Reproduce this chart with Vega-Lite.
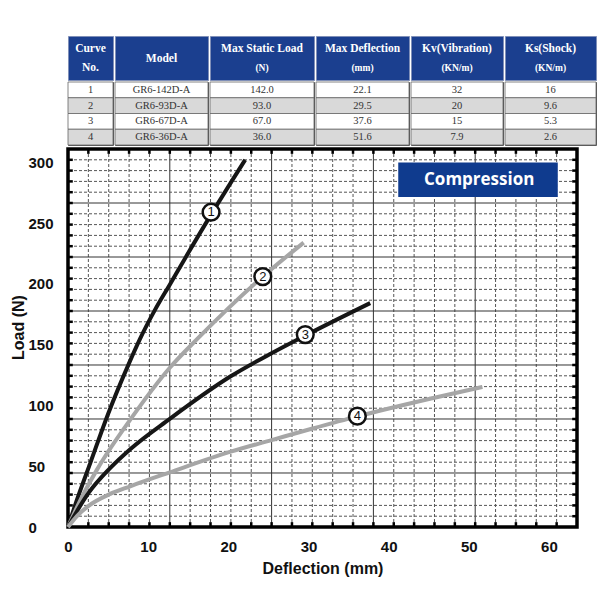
{
  "$schema": "https://vega.github.io/schema/vega-lite/v6.json",
  "padding": {"left": 8, "top": 35, "right": 5, "bottom": 5},
  "background": "white",
  "config": {"view": {"stroke": null}, "axis": {"grid": false, "ticks": false, "domain": false}},
  "spacing": 0,
  "datasets": {
    "header": [
      {"col": "no", "l1": "Curve", "l2": "No."},
      {"col": "model", "l1": "Model", "l2": ""},
      {"col": "load", "l1": "Max Static Load", "l2": "(N)"},
      {"col": "defl", "l1": "Max Deflection", "l2": "(mm)"},
      {"col": "kv", "l1": "Kv(Vibration)", "l2": "(KN/m)"},
      {"col": "ks", "l1": "Ks(Shock)", "l2": "(KN/m)"}
    ],
    "table": [
      {"no": "1", "model": "GR6-142D-A", "load": "142.0", "defl": "22.1", "kv": "32", "ks": "16"},
      {"no": "2", "model": "GR6-93D-A", "load": "93.0", "defl": "29.5", "kv": "20", "ks": "9.6"},
      {"no": "3", "model": "GR6-67D-A", "load": "67.0", "defl": "37.6", "kv": "15", "ks": "5.3"},
      {"no": "4", "model": "GR6-36D-A", "load": "36.0", "defl": "51.6", "kv": "7.9", "ks": "2.6"}
    ],
    "vgrid": [
      {"x": 2.54, "kind": "minor"}, {"x": 5.08, "kind": "minor"}, {"x": 7.62, "kind": "minor"}, {"x": 10.16, "kind": "minor"},
      {"x": 12.7, "kind": "major"},
      {"x": 15.24, "kind": "minor"}, {"x": 17.78, "kind": "minor"}, {"x": 20.32, "kind": "minor"}, {"x": 22.86, "kind": "minor"},
      {"x": 25.4, "kind": "major"},
      {"x": 27.94, "kind": "minor"}, {"x": 30.48, "kind": "minor"}, {"x": 33.02, "kind": "minor"}, {"x": 35.56, "kind": "minor"},
      {"x": 38.1, "kind": "major"},
      {"x": 40.64, "kind": "minor"}, {"x": 43.18, "kind": "minor"}, {"x": 45.72, "kind": "minor"}, {"x": 48.26, "kind": "minor"},
      {"x": 50.8, "kind": "major"},
      {"x": 53.34, "kind": "minor"}, {"x": 55.88, "kind": "minor"}, {"x": 58.42, "kind": "minor"}, {"x": 60.96, "kind": "minor"}
    ],
    "hgrid": [
      {"y": 8.89, "kind": "minor"}, {"y": 17.77, "kind": "minor"}, {"y": 26.66, "kind": "minor"}, {"y": 35.54, "kind": "minor"},
      {"y": 44.43, "kind": "major"},
      {"y": 53.31, "kind": "minor"}, {"y": 62.2, "kind": "minor"}, {"y": 71.09, "kind": "minor"}, {"y": 79.97, "kind": "minor"},
      {"y": 88.86, "kind": "major"},
      {"y": 97.74, "kind": "minor"}, {"y": 106.63, "kind": "minor"}, {"y": 115.51, "kind": "minor"}, {"y": 124.4, "kind": "minor"},
      {"y": 133.29, "kind": "major"},
      {"y": 142.17, "kind": "minor"}, {"y": 151.06, "kind": "minor"}, {"y": 159.94, "kind": "minor"}, {"y": 168.83, "kind": "minor"},
      {"y": 177.71, "kind": "major"},
      {"y": 186.6, "kind": "minor"}, {"y": 195.49, "kind": "minor"}, {"y": 204.37, "kind": "minor"}, {"y": 213.26, "kind": "minor"},
      {"y": 222.14, "kind": "major"},
      {"y": 231.03, "kind": "minor"}, {"y": 239.91, "kind": "minor"}, {"y": 248.8, "kind": "minor"}, {"y": 257.69, "kind": "minor"},
      {"y": 266.57, "kind": "major"},
      {"y": 275.46, "kind": "minor"}, {"y": 284.34, "kind": "minor"}, {"y": 293.23, "kind": "minor"}, {"y": 302.11, "kind": "minor"}
    ],
    "curves": [
      {"curve": "1", "d": 0, "load": 0}, {"curve": "1", "d": 1.1, "load": 22}, {"curve": "1", "d": 2.8, "load": 53},
      {"curve": "1", "d": 5.0, "load": 93}, {"curve": "1", "d": 7.5, "load": 133}, {"curve": "1", "d": 9.0, "load": 155},
      {"curve": "1", "d": 10.8, "load": 178}, {"curve": "1", "d": 12.75, "load": 200}, {"curve": "1", "d": 14.6, "load": 221},
      {"curve": "1", "d": 17.85, "load": 257}, {"curve": "1", "d": 22.1, "load": 302},
      {"curve": "2", "d": 0, "load": 0}, {"curve": "2", "d": 1.5, "load": 21.5}, {"curve": "2", "d": 3.6, "load": 47},
      {"curve": "2", "d": 8.17, "load": 92}, {"curve": "2", "d": 12.7, "load": 131}, {"curve": "2", "d": 16.1, "load": 154.5},
      {"curve": "2", "d": 24.3, "load": 206}, {"curve": "2", "d": 29.4, "load": 234},
      {"curve": "3", "d": 0, "load": 0}, {"curve": "3", "d": 1.12, "load": 13}, {"curve": "3", "d": 2.57, "load": 28},
      {"curve": "3", "d": 5.19, "load": 48}, {"curve": "3", "d": 7.76, "load": 64}, {"curve": "3", "d": 12.7, "load": 89},
      {"curve": "3", "d": 20.3, "load": 124}, {"curve": "3", "d": 25.4, "load": 143}, {"curve": "3", "d": 29.6, "load": 157.5},
      {"curve": "3", "d": 37.7, "load": 184.2},
      {"curve": "4", "d": 0, "load": 0}, {"curve": "4", "d": 1.12, "load": 9}, {"curve": "4", "d": 2.57, "load": 17.4},
      {"curve": "4", "d": 5.19, "load": 27}, {"curve": "4", "d": 7.76, "load": 33.5}, {"curve": "4", "d": 12.7, "load": 45},
      {"curve": "4", "d": 20.3, "load": 62}, {"curve": "4", "d": 25.4, "load": 71.5}, {"curve": "4", "d": 30.4, "load": 80.8},
      {"curve": "4", "d": 36.1, "load": 91}, {"curve": "4", "d": 45.3, "load": 105.7}, {"curve": "4", "d": 51.7, "load": 115.3}
    ],
    "labels": [
      {"curve": "1", "d": 17.85, "load": 259},
      {"curve": "2", "d": 24.3, "load": 206},
      {"curve": "3", "d": 29.6, "load": 158.3},
      {"curve": "4", "d": 36.1, "load": 91.2}
    ]
  },
  "vconcat": [
    {
      "spacing": 0,
      "vconcat": [
        {
          "spacing": 0,
          "hconcat": [
            {"width": 45, "height": 44, "view": {"fill": "#1b3f8f", "stroke": "#7f8fb8", "strokeWidth": 1},
             "data": {"name": "header"}, "transform": [{"filter": "datum.col == 'no'"}],
             "encoding": {"y": {"field": "col", "type": "nominal", "axis": {"labels": false, "title": "L", "titleFont": "Liberation Sans", "titleFontWeight": "bold", "titleFontSize": 16, "titleOpacity": 0, "titleX": -40, "titleY": 22}}},
             "layer": [
               {"mark": {"type": "text", "font": "Liberation Serif", "fontWeight": "bold", "fontSize": 11.5, "color": "white", "dy": -9}, "encoding": {"text": {"field": "l1"}}},
               {"mark": {"type": "text", "font": "Liberation Serif", "fontWeight": "bold", "fontSize": 11.5, "color": "white", "dy": 9.5}, "encoding": {"text": {"field": "l2"}}}
             ]},
            {"width": 93, "height": 44, "view": {"fill": "#1b3f8f", "stroke": "#7f8fb8", "strokeWidth": 1},
             "data": {"name": "header"}, "transform": [{"filter": "datum.col == 'model'"}],
             "layer": [
               {"mark": {"type": "text", "font": "Liberation Serif", "fontWeight": "bold", "fontSize": 11.5, "color": "white", "dy": 1}, "encoding": {"text": {"field": "l1"}}}
             ]},
            {"width": 104, "height": 44, "view": {"fill": "#1b3f8f", "stroke": "#7f8fb8", "strokeWidth": 1},
             "data": {"name": "header"}, "transform": [{"filter": "datum.col == 'load'"}],
             "layer": [
               {"mark": {"type": "text", "font": "Liberation Serif", "fontWeight": "bold", "fontSize": 11.5, "color": "white", "dy": -9}, "encoding": {"text": {"field": "l1"}}},
               {"mark": {"type": "text", "font": "Liberation Serif", "fontWeight": "bold", "fontSize": 9.5, "color": "white", "dy": 9.5}, "encoding": {"text": {"field": "l2"}}}
             ]},
            {"width": 93, "height": 44, "view": {"fill": "#1b3f8f", "stroke": "#7f8fb8", "strokeWidth": 1},
             "data": {"name": "header"}, "transform": [{"filter": "datum.col == 'defl'"}],
             "layer": [
               {"mark": {"type": "text", "font": "Liberation Serif", "fontWeight": "bold", "fontSize": 11.5, "color": "white", "dy": -9}, "encoding": {"text": {"field": "l1"}}},
               {"mark": {"type": "text", "font": "Liberation Serif", "fontWeight": "bold", "fontSize": 9.5, "color": "white", "dy": 9.5}, "encoding": {"text": {"field": "l2"}}}
             ]},
            {"width": 92, "height": 44, "view": {"fill": "#1b3f8f", "stroke": "#7f8fb8", "strokeWidth": 1},
             "data": {"name": "header"}, "transform": [{"filter": "datum.col == 'kv'"}],
             "layer": [
               {"mark": {"type": "text", "font": "Liberation Serif", "fontWeight": "bold", "fontSize": 11.5, "color": "white", "dy": -9}, "encoding": {"text": {"field": "l1"}}},
               {"mark": {"type": "text", "font": "Liberation Serif", "fontWeight": "bold", "fontSize": 9.5, "color": "white", "dy": 9.5}, "encoding": {"text": {"field": "l2"}}}
             ]},
            {"width": 91, "height": 44, "view": {"fill": "#1b3f8f", "stroke": "#7f8fb8", "strokeWidth": 1},
             "data": {"name": "header"}, "transform": [{"filter": "datum.col == 'ks'"}],
             "layer": [
               {"mark": {"type": "text", "font": "Liberation Serif", "fontWeight": "bold", "fontSize": 11.5, "color": "white", "dy": -9}, "encoding": {"text": {"field": "l1"}}},
               {"mark": {"type": "text", "font": "Liberation Serif", "fontWeight": "bold", "fontSize": 9.5, "color": "white", "dy": 9.5}, "encoding": {"text": {"field": "l2"}}}
             ]}
          ]
        },
        {
          "spacing": 0,
          "hconcat": [
            {"width": 45, "height": 63, "view": {"stroke": "#555", "strokeWidth": 1}, "data": {"name": "table"},
             "encoding": {"y": {"field": "no", "type": "ordinal", "scale": {"paddingInner": 0, "paddingOuter": 0},
               "axis": {"labels": false, "title": "L", "titleFont": "Liberation Sans", "titleFontWeight": "bold", "titleFontSize": 16, "titleOpacity": 0, "titleX": -40, "titleY": 31}}},
             "layer": [
               {"mark": {"type": "rect", "stroke": "#666", "strokeWidth": 0.8}, "encoding": {"x": {"value": 0}, "x2": {"value": "width"}, "fill": {"condition": {"test": "datum.no == '2' || datum.no == '4'", "value": "#d9d9d9"}, "value": "#ffffff"}}},
               {"mark": {"type": "text", "font": "Liberation Serif", "fontSize": 10.5, "color": "#333"}, "encoding": {"text": {"field": "no"}}}
             ]},
            {"width": 93, "height": 63, "view": {"stroke": "#555", "strokeWidth": 1}, "data": {"name": "table"},
             "encoding": {"y": {"field": "no", "type": "ordinal", "axis": null, "scale": {"paddingInner": 0, "paddingOuter": 0}}},
             "layer": [
               {"mark": {"type": "rect", "stroke": "#666", "strokeWidth": 0.8}, "encoding": {"x": {"value": 0}, "x2": {"value": "width"}, "fill": {"condition": {"test": "datum.no == '2' || datum.no == '4'", "value": "#d9d9d9"}, "value": "#ffffff"}}},
               {"mark": {"type": "text", "font": "Liberation Serif", "fontSize": 10.5, "color": "#333"}, "encoding": {"text": {"field": "model"}}}
             ]},
            {"width": 104, "height": 63, "view": {"stroke": "#555", "strokeWidth": 1}, "data": {"name": "table"},
             "encoding": {"y": {"field": "no", "type": "ordinal", "axis": null, "scale": {"paddingInner": 0, "paddingOuter": 0}}},
             "layer": [
               {"mark": {"type": "rect", "stroke": "#666", "strokeWidth": 0.8}, "encoding": {"x": {"value": 0}, "x2": {"value": "width"}, "fill": {"condition": {"test": "datum.no == '2' || datum.no == '4'", "value": "#d9d9d9"}, "value": "#ffffff"}}},
               {"mark": {"type": "text", "font": "Liberation Serif", "fontSize": 10.5, "color": "#333"}, "encoding": {"text": {"field": "load"}}}
             ]},
            {"width": 93, "height": 63, "view": {"stroke": "#555", "strokeWidth": 1}, "data": {"name": "table"},
             "encoding": {"y": {"field": "no", "type": "ordinal", "axis": null, "scale": {"paddingInner": 0, "paddingOuter": 0}}},
             "layer": [
               {"mark": {"type": "rect", "stroke": "#666", "strokeWidth": 0.8}, "encoding": {"x": {"value": 0}, "x2": {"value": "width"}, "fill": {"condition": {"test": "datum.no == '2' || datum.no == '4'", "value": "#d9d9d9"}, "value": "#ffffff"}}},
               {"mark": {"type": "text", "font": "Liberation Serif", "fontSize": 10.5, "color": "#333"}, "encoding": {"text": {"field": "defl"}}}
             ]},
            {"width": 92, "height": 63, "view": {"stroke": "#555", "strokeWidth": 1}, "data": {"name": "table"},
             "encoding": {"y": {"field": "no", "type": "ordinal", "axis": null, "scale": {"paddingInner": 0, "paddingOuter": 0}}},
             "layer": [
               {"mark": {"type": "rect", "stroke": "#666", "strokeWidth": 0.8}, "encoding": {"x": {"value": 0}, "x2": {"value": "width"}, "fill": {"condition": {"test": "datum.no == '2' || datum.no == '4'", "value": "#d9d9d9"}, "value": "#ffffff"}}},
               {"mark": {"type": "text", "font": "Liberation Serif", "fontSize": 10.5, "color": "#333"}, "encoding": {"text": {"field": "kv"}}}
             ]},
            {"width": 91, "height": 63, "view": {"stroke": "#555", "strokeWidth": 1}, "data": {"name": "table"},
             "encoding": {"y": {"field": "no", "type": "ordinal", "axis": null, "scale": {"paddingInner": 0, "paddingOuter": 0}}},
             "layer": [
               {"mark": {"type": "rect", "stroke": "#666", "strokeWidth": 0.8}, "encoding": {"x": {"value": 0}, "x2": {"value": "width"}, "fill": {"condition": {"test": "datum.no == '2' || datum.no == '4'", "value": "#d9d9d9"}, "value": "#ffffff"}}},
               {"mark": {"type": "text", "font": "Liberation Serif", "fontSize": 10.5, "color": "#333"}, "encoding": {"text": {"field": "ks"}}}
             ]}
          ]
        }
      ]
    },
    {
      "width": 509,
      "height": 378,
      "view": {"stroke": "#000", "strokeWidth": 3.5},
      "layer": [
        {"data": {"name": "vgrid"}, "transform": [{"filter": "datum.kind == 'minor'"}],
         "mark": {"type": "rule", "color": "#555", "strokeWidth": 1, "strokeDash": [3, 2]},
         "encoding": {"x": {"field": "x", "type": "quantitative", "scale": {"domain": [0, 63.5], "nice": false, "zero": true},
           "axis": {"values": [0, 10, 20, 30, 40, 50, 60], "grid": false, "ticks": false, "tickSize": 0, "domain": false, "labelFlush": false, "labelOverlap": false,
             "labelFont": "Liberation Sans", "labelFontWeight": "bold", "labelFontSize": 15, "labelColor": "#111", "labelPadding": 12,
             "title": "Deflection (mm)", "titleFont": "Liberation Sans", "titleFontWeight": "bold", "titleFontSize": 16, "titleColor": "#111", "titlePadding": 6}}}},
        {"data": {"name": "vgrid"}, "transform": [{"filter": "datum.kind == 'major'"}],
         "mark": {"type": "rule", "color": "#333", "strokeWidth": 1},
         "encoding": {"x": {"field": "x", "type": "quantitative"}}},
        {"data": {"name": "hgrid"}, "transform": [{"filter": "datum.kind == 'minor'"}],
         "mark": {"type": "rule", "color": "#555", "strokeWidth": 1, "strokeDash": [3, 2]},
         "encoding": {"y": {"field": "y", "type": "quantitative", "scale": {"domain": [0, 311], "nice": false, "zero": true},
           "axis": {"values": [0, 50, 100, 150, 200, 250, 300], "grid": false, "ticks": false, "tickSize": 0, "domain": false, "labelFlush": false, "labelOverlap": false,
             "labelAlign": "left", "labelBaseline": "middle", "labelPadding": 40,
             "labelFont": "Liberation Sans", "labelFontWeight": "bold", "labelFontSize": 15, "labelColor": "#111",
             "title": "Load (N)", "titleFont": "Liberation Sans", "titleFontWeight": "bold", "titleFontSize": 16, "titleColor": "#111", "titleX": -42, "titleY": 178}}}},
        {"data": {"name": "hgrid"}, "transform": [{"filter": "datum.kind == 'major'"}],
         "mark": {"type": "rule", "color": "#333", "strokeWidth": 1},
         "encoding": {"y": {"field": "y", "type": "quantitative"}}},
        {"data": {"name": "vgrid"}, "mark": {"type": "rule", "color": "#000", "strokeWidth": 2.5},
         "encoding": {"x": {"field": "x", "type": "quantitative"}, "y": {"datum": 0}, "y2": {"datum": 4}}},
        {"data": {"name": "vgrid"}, "mark": {"type": "rule", "color": "#000", "strokeWidth": 2.5},
         "encoding": {"x": {"field": "x", "type": "quantitative"}, "y": {"datum": 307}, "y2": {"datum": 311}}},
        {"data": {"name": "hgrid"}, "mark": {"type": "rule", "color": "#000", "strokeWidth": 2.5},
         "encoding": {"y": {"field": "y", "type": "quantitative"}, "x": {"datum": 0}, "x2": {"datum": 0.6}}},
        {"data": {"name": "hgrid"}, "mark": {"type": "rule", "color": "#000", "strokeWidth": 2.5},
         "encoding": {"y": {"field": "y", "type": "quantitative"}, "x": {"datum": 62.9}, "x2": {"datum": 63.5}}},
        {"data": {"name": "curves"}, "mark": {"type": "line", "strokeWidth": 4, "interpolate": "monotone"},
         "encoding": {"x": {"field": "d", "type": "quantitative"}, "y": {"field": "load", "type": "quantitative"},
           "color": {"field": "curve", "type": "nominal", "scale": {"domain": ["1", "2", "3", "4"], "range": ["#161616", "#a6a6a6", "#161616", "#a6a6a6"]}, "legend": null}}},
        {"data": {"name": "labels"}, "mark": {"type": "circle", "size": 280, "fill": "#ffffff", "stroke": "#111", "strokeWidth": 2.5, "opacity": 1},
         "encoding": {"x": {"field": "d", "type": "quantitative"}, "y": {"field": "load", "type": "quantitative"}}},
        {"data": {"name": "labels"}, "mark": {"type": "text", "font": "Liberation Sans", "fontSize": 13, "color": "#111"},
         "encoding": {"x": {"field": "d", "type": "quantitative"}, "y": {"field": "load", "type": "quantitative"}, "text": {"field": "curve"}}},
        {"data": {"values": [{"label": "Compression"}]}, "mark": {"type": "rect", "color": "#0f3b8e"},
         "encoding": {"x": {"datum": 41.2}, "x2": {"datum": 61.1}, "y": {"datum": 299.8}, "y2": {"datum": 271.5}}},
        {"data": {"values": [{"label": "Compression"}]}, "mark": {"type": "text", "font": "Open Sans", "fontWeight": "bold", "fontSize": 17, "color": "white"},
         "encoding": {"x": {"datum": 51.3}, "y": {"datum": 285.3}, "text": {"field": "label"}}}
      ]
    }
  ]
}
